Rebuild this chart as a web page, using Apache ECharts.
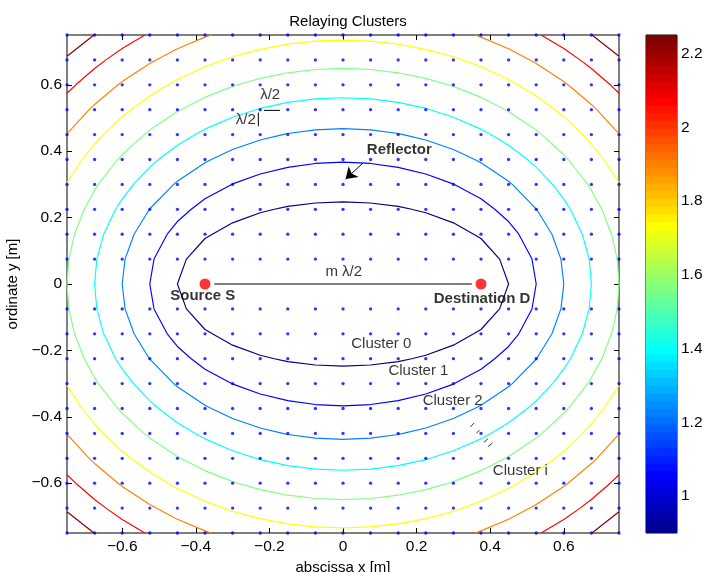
<!DOCTYPE html>
<html><head><meta charset="utf-8">
<script src="https://cdn.jsdelivr.net/npm/echarts@6/dist/echarts.min.js"></script>
<style>html,body{margin:0;padding:0;background:#fff}#c{width:704px;height:572px}</style>
</head><body><div id="c"></div>
<script>
// ---------- data ----------
const gridVals = [-0.75,-0.675,-0.6,-0.525,-0.45,-0.375,-0.3,-0.225,-0.15,-0.075,0,0.075,0.15,0.225,0.3,0.375,0.45,0.525,0.6,0.675,0.75];
const dotCols = [-0.75,-0.675,-0.6,-0.525,-0.45,-0.375,-0.3,-0.225,-0.15,-0.075,0,0.075,0.15,0.225,0.3,0.375,0.45,0.525,0.6,0.675,0.75];
const dotRows = [0.75,0.675,0.6,0.525,0.45,0.375,0.3,0.225,0.15,0.075,-0.075,-0.15,-0.225,-0.3,-0.375,-0.45,-0.525,-0.6,-0.675,-0.75];
const sourcePos = [-0.375, 0];
const destPos = [0.375, 0];
const levels = [0.9,1.05,1.2,1.35,1.5,1.65,1.8,1.95,2.1];
const levelColors = ['#000080','#0000ff','#0080ff','#00ffff','#80ff80','#ffff00','#ff8000','#ff0000','#800000'];
const axisTicks = [-0.6,-0.4,-0.2,0,0.2,0.4,0.6];
const cbTicks = [1,1.2,1.4,1.6,1.8,2,2.2];
const cbRange = [0.9, 2.25];
const cbSteps = 64;
// annotations (data coordinates)
const annotTexts = [
  ['m λ/2', 0.002, 0.037, 'normal'],
  ['Cluster 0', 0.104, -0.181, 'normal'],
  ['Cluster 1', 0.205, -0.261, 'normal'],
  ['Cluster 2', 0.298, -0.352, 'normal'],
  ['Cluster i', 0.482, -0.564, 'normal'],
  ['Reflector', 0.153, 0.4045, 'bold'],
  ['λ/2', -0.198, 0.570, 'normal'],
  ['λ/2', -0.264, 0.495, 'normal'],
  ['Source S', -0.381, -0.037, 'bold'],
  ['Destination D', 0.378, -0.044, 'bold']
];
const annotSegments = [
  [[-0.35,0],[0.35,0]],
  [[-0.215,0.523],[-0.171,0.523]],
  [[-0.230,0.516],[-0.230,0.475]]
];
const hatchSegments = [
  [[0.346,-0.431],[0.356,-0.419]],
  [[0.3625,-0.449],[0.371,-0.441]],
  [[0.383,-0.477],[0.394,-0.466]],
  [[0.394,-0.490],[0.406,-0.479]]
];
const arrowCoords = [[0.054,0.364],[0.007,0.316]];

// ---------- helpers ----------
function field(x,y){ return Math.hypot(x-sourcePos[0], y-sourcePos[1]) + Math.hypot(x-destPos[0], y-destPos[1]); }
const F = gridVals.map(x => gridVals.map(y => field(x,y)));
function contour(L){
  const pts=[], seen=new Set(), eps=1e-9, n=gridVals.length, g=gridVals;
  const add=(x,y)=>{const k=x.toFixed(6)+','+y.toFixed(6); if(!seen.has(k)){seen.add(k);pts.push([x,y]);}};
  const edge=(x1,y1,a,x2,y2,b)=>{
    const da=a-L, db=b-L;
    if(Math.abs(da)<eps) add(x1,y1);
    if(Math.abs(db)<eps) add(x2,y2);
    if(Math.abs(da)>=eps && Math.abs(db)>=eps && da*db<0){ const t=da/(da-db); add(x1+t*(x2-x1), y1+t*(y2-y1)); }
  };
  for(let i=0;i<n;i++) for(let j=0;j<n;j++){
    if(i+1<n) edge(g[i],g[j],F[i][j],g[i+1],g[j],F[i+1][j]);
    if(j+1<n) edge(g[i],g[j],F[i][j],g[i],g[j+1],F[i][j+1]);
  }
  pts.sort((p,q)=>Math.atan2(p[1],p[0])-Math.atan2(q[1],q[0]));
  const d=(p,q)=>Math.hypot(p[0]-q[0],p[1]-q[1]);
  const out=[], gap=0.12;
  for(let k=0;k<pts.length;k++){ if(k>0 && d(pts[k],pts[k-1])>gap) out.push(['-','-']); out.push(pts[k]); }
  if(pts.length>2 && d(pts[0],pts[pts.length-1])<=gap) out.push(pts[0]);
  return out;
}
function segData(segs){ const out=[]; segs.forEach((s,i)=>{ if(i) out.push(['-','-']); out.push(s[0], s[1]); }); return out; }
function jetMatlab(m){
  const n=Math.ceil(m/4), u=[];
  for(let i=1;i<=n;i++) u.push(i/n);
  for(let i=1;i<n;i++) u.push(1);
  for(let i=n;i>=1;i--) u.push(i/n);
  const J=[]; for(let i=0;i<m;i++) J.push([0,0,0]);
  const g0=Math.ceil(n/2)-((m%4)===1?1:0);
  for(let k=1;k<=u.length;k++){
    const gi=g0+k, ri=gi+n, bi=gi-n;
    if(ri>=1&&ri<=m) J[ri-1][0]=u[k-1];
    if(gi>=1&&gi<=m) J[gi-1][1]=u[k-1];
    if(bi>=1&&bi<=m) J[bi-1][2]=u[k-1];
  }
  return J.map(c=>'rgb('+c.map(v=>Math.round(v*255)).join(',')+')');
}
const cbColors = jetMatlab(cbSteps);
const fmt = v => (v<0?'\u2212':'') + Math.abs(v);

const dots=[]; dotRows.forEach(y=>dotCols.forEach(x=>dots.push([x,y])));

const series=[];
levels.forEach((L,i)=>series.push({
  type:'line', xAxisIndex:0, yAxisIndex:0, data:contour(L), showSymbol:false, symbol:'none',
  connectNulls:false, lineStyle:{color:levelColors[i], width:1.15}, silent:true, z:2
}));
series.push({type:'scatter', xAxisIndex:0, yAxisIndex:0, data:dots, symbolSize:3.3, clip:false,
  itemStyle:{color:'#0000ff'}, silent:true, z:3});
series.push({type:'line', xAxisIndex:0, yAxisIndex:0, data:segData(annotSegments), showSymbol:false, symbol:'none',
  lineStyle:{color:'#000', width:1}, silent:true, z:4});
series.push({type:'line', xAxisIndex:0, yAxisIndex:0, data:segData(hatchSegments), showSymbol:false, symbol:'none',
  lineStyle:{color:'#333', width:1}, silent:true, z:4});
series.push({type:'lines', coordinateSystem:'cartesian2d', xAxisIndex:0, yAxisIndex:0,
  data:[{coords:arrowCoords}], symbol:['none','arrow'], symbolSize:[0,11],
  lineStyle:{color:'#000', width:1, opacity:1}, silent:true, z:5});
series.push({type:'scatter', xAxisIndex:0, yAxisIndex:0, data:[sourcePos, destPos], symbolSize:11,
  itemStyle:{color:'#ff0000'}, silent:true, z:6});
series.push({type:'scatter', xAxisIndex:0, yAxisIndex:0, clip:false, symbolSize:1, silent:true, z:7,
  itemStyle:{color:'rgba(0,0,0,0)'},
  data: annotTexts.map(a=>({value:[a[1],a[2]], label:{show:true, position:'inside', formatter:a[0],
     fontSize:15, fontWeight:a[3], color:'#000', fontFamily:'Liberation Sans'}}))});
// colorbar
const cbStep=(cbRange[1]-cbRange[0])/cbSteps;
series.push({type:'custom', xAxisIndex:2, yAxisIndex:2, silent:true, clip:true,
  data: cbColors.map((c,i)=>[0, cbRange[0]+i*cbStep, i]),
  renderItem:(params, api)=>{
    const i=api.value(2);
    const p0=api.coord([0, cbRange[0]+i*cbStep]);
    const p1=api.coord([1, cbRange[0]+(i+1)*cbStep]);
    return {type:'rect', shape:{x:p0[0], y:p1[1]-0.5, width:p1[0]-p0[0], height:p0[1]-p1[1]+1},
      style:{fill:cbColors[i]}};
  }});

const tickStyle={lineStyle:{color:'#000', width:1}};
const noLine={show:false, onZero:false};
const option={
  animation:false,
  backgroundColor:'#fff',
  textStyle:{fontFamily:'Liberation Sans', color:'#000'},
  title:{text:'Relaying Clusters', left:343, top:9, textAlign:'center',
    textStyle:{fontSize:15, fontWeight:'normal', color:'#000', fontFamily:'Liberation Sans'}},
  grid:[
    {left:67, top:35, width:552, height:498, show:true, borderColor:'#000', borderWidth:1, backgroundColor:'#fff',
      containLabel:false, outerBoundsMode:'none'},
    {left:646, top:35, width:31, height:498, show:true, borderColor:'#000', borderWidth:1, backgroundColor:'transparent',
      containLabel:false, outerBoundsMode:'none'}
  ],
  xAxis:[
    {gridIndex:0, type:'value', min:-0.75, max:0.75, position:'bottom',
      name:'abscissa x [m]', nameLocation:'middle', nameGap:21,
      nameTextStyle:{fontSize:15, color:'#000'},
      axisLine:noLine, splitLine:{show:false},
      axisTick:{inside:true, length:5, customValues:axisTicks, ...tickStyle},
      axisLabel:{customValues:axisTicks, formatter:fmt, fontSize:15.5, color:'#000', margin:6}},
    {gridIndex:0, type:'value', min:-0.75, max:0.75, position:'top',
      axisLine:noLine, splitLine:{show:false}, axisLabel:{show:false},
      axisTick:{inside:true, length:5, customValues:axisTicks, ...tickStyle}},
    {gridIndex:1, type:'value', min:0, max:1, show:false}
  ],
  yAxis:[
    {gridIndex:0, type:'value', min:-0.75, max:0.75, position:'left',
      name:'ordinate y [m]', nameLocation:'middle', nameGap:44, nameRotate:90,
      nameTextStyle:{fontSize:15, color:'#000'},
      axisLine:noLine, splitLine:{show:false},
      axisTick:{inside:true, length:5, customValues:axisTicks, ...tickStyle},
      axisLabel:{customValues:axisTicks, formatter:fmt, fontSize:15.5, color:'#000', margin:5}},
    {gridIndex:0, type:'value', min:-0.75, max:0.75, position:'right',
      axisLine:noLine, splitLine:{show:false}, axisLabel:{show:false},
      axisTick:{inside:true, length:5, customValues:axisTicks, ...tickStyle}},
    {gridIndex:1, type:'value', min:cbRange[0], max:cbRange[1], position:'right',
      axisLine:noLine, splitLine:{show:false},
      axisTick:{inside:true, length:4.5, customValues:cbTicks, ...tickStyle},
      axisLabel:{customValues:cbTicks, formatter:fmt, fontSize:15.5, color:'#000', margin:4}},
    {gridIndex:1, type:'value', min:cbRange[0], max:cbRange[1], position:'left',
      axisLine:noLine, splitLine:{show:false}, axisLabel:{show:false},
      axisTick:{inside:true, length:4.5, customValues:cbTicks, ...tickStyle}}
  ],
  series:series
};
const chart=echarts.init(document.getElementById('c'), null, {renderer:'canvas'});
chart.setOption(option);
</script></body></html>
